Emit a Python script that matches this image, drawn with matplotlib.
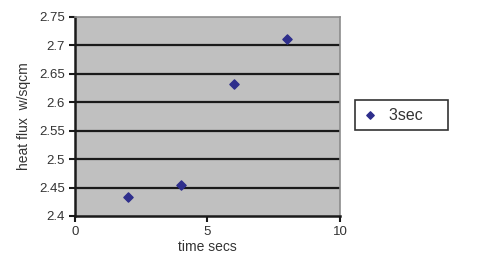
import matplotlib
matplotlib.use("Agg")
from matplotlib import pyplot as plt

time_secs = [2, 4, 6, 8]
heat_flux = [2.433, 2.455, 2.632, 2.712]
xticks = [0, 5, 10]
yticks = [2.4, 2.45, 2.5, 2.55, 2.6, 2.65, 2.7, 2.75]
ylabels = ["2.4", "2.45", "2.5", "2.55", "2.6", "2.65", "2.7", "2.75"]

plt.rcParams['font.family'] = ['Liberation Sans', 'DejaVu Sans']
fig = plt.figure(figsize=(4.83, 2.65), dpi=100)
ax = fig.add_axes([0.155, 0.185, 0.549, 0.751])
ax.set_facecolor('#c0c0c0')

ax.scatter(time_secs, heat_flux, marker='D', s=22, color='#2e2e8c', zorder=3, label='3sec')

ax.set_xlim(0, 10)
ax.set_ylim(2.4, 2.75)
ax.set_xticks(xticks)
ax.set_yticks(yticks)
ax.set_yticklabels(ylabels)
for y in yticks[1:-1]:
    ax.axhline(y, color='#1a1a1a', lw=1.6, zorder=1)

for s in ['top', 'right']:
    ax.spines[s].set_color('#8c8c8c')
    ax.spines[s].set_linewidth(1.2)
for s in ['left', 'bottom']:
    ax.spines[s].set_color('#1a1a1a')
    ax.spines[s].set_linewidth(1.8)
ax.tick_params(axis='both', direction='out', length=4, width=1.5, color='#1a1a1a',
               labelsize=9.5, labelcolor='#333333', pad=3)

ax.set_xlabel('time secs', fontsize=10, color='#333333', labelpad=2)
ax.set_ylabel('heat flux  w/sqcm', fontsize=10, color='#333333', labelpad=6)

leg = ax.legend(loc='center left', bbox_to_anchor=(1.055, 0.507), frameon=True, fancybox=False,
                fontsize=11.5, handletextpad=0.7, borderpad=0.45, markerscale=0.8,
                handlelength=1.0, borderaxespad=0)
leg.get_frame().set_edgecolor('black')
leg.get_frame().set_linewidth(1.2)
for t in leg.get_texts():
    t.set_color('#333333')
    t.set_text('3sec    ')

fig.savefig('out.png', dpi=100)
